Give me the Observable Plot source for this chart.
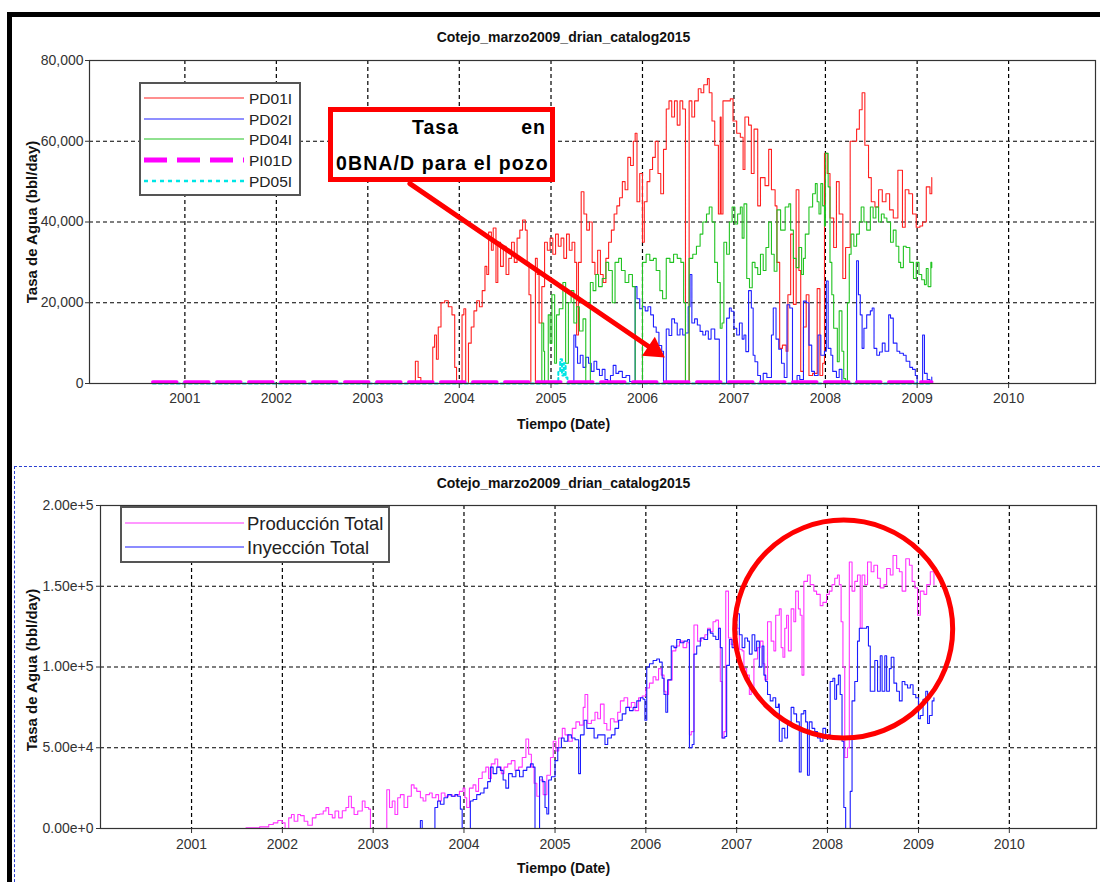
<!DOCTYPE html>
<html><head><meta charset="utf-8">
<script src="https://cdn.jsdelivr.net/npm/d3@7"></script>
<script src="https://cdn.jsdelivr.net/npm/@observablehq/plot@0.6"></script>
<style>
body{margin:0;background:#fff;}
#wrap{position:relative;width:1100px;height:882px;overflow:hidden;background:#fff;font-family:"Liberation Sans",Arial,sans-serif;}
#wrap svg{position:absolute;}
.bar{position:absolute;background:#000;}
#panel2{position:absolute;left:14px;top:466px;width:1100px;height:430px;border-top:1.5px dashed #2a3fd0;border-left:1.5px dashed #2a3fd0;}
#callout{position:absolute;left:328px;top:107px;width:227px;height:75px;box-sizing:border-box;border:5px solid #f00;background:#fff;font-weight:bold;font-size:19.5px;color:#000;}
#callout span{position:absolute;white-space:nowrap;line-height:20px;}
</style></head><body><div id="wrap">
<div class="bar" style="left:7px;top:12px;width:1093px;height:5px"></div>
<div class="bar" style="left:7px;top:12px;width:5px;height:870px"></div>
<div id="panel2"></div>
</div>
<script>
// ---------- data ----------
const chartTitle = "Cotejo_marzo2009_drian_catalog2015";
const xLabel = "Tiempo (Date)";
const yLabel = "Tasa de Agua (bbl/day)";
const xTickYears = [2001, 2002, 2003, 2004, 2005, 2006, 2007, 2008, 2009, 2010];
const topYTicks = [0, 20000, 40000, 60000, 80000];
const topYLabels = ["0", "20,000", "40,000", "60,000", "80,000"];
const botYTicks = [0, 50000, 100000, 150000, 200000];
const botYLabels = ["0.00e+0", "5.00e+4", "1.00e+5", "1.50e+5", "2.00e+5"];
const topSeriesNames = ["PD01I", "PD02I", "PD04I", "PI01D", "PD05I"];
const botSeriesNames = ["Producción Total", "Inyección Total"];
const calloutLine1 = ["Tasa", "en"];
const calloutLine2 = "0BNA/D para el pozo";

// [decimal year, bbl/day]
const pd01i = [[2000.65,0],[2003.50,0],[2003.52,5500],[2003.55,1500],[2003.58,0],[2003.69,0],[2003.71,9000],[2003.73,12000],[2003.75,6000],[2003.77,14000],[2003.80,20000],[2003.84,20500],[2003.88,19000],[2003.92,17000],[2003.95,4000],[2003.97,0],[2004.02,0],[2004.03,17000],[2004.05,18500],[2004.07,0],[2004.09,0],[2004.10,10000],[2004.13,14000],[2004.16,18000],[2004.19,20500],[2004.22,19000],[2004.25,23000],[2004.28,29000],[2004.30,27000],[2004.32,37500],[2004.35,33000],[2004.37,38500],[2004.40,25000],[2004.42,35000],[2004.45,29000],[2004.48,34000],[2004.51,27000],[2004.54,31000],[2004.57,35000],[2004.60,30000],[2004.63,36000],[2004.66,38000],[2004.69,40500],[2004.72,38000],[2004.74,30000],[2004.76,22000],[2004.78,0],[2004.82,0],[2004.83,31000],[2004.85,27000],[2004.87,15000],[2004.90,24000],[2004.93,35000],[2004.96,33000],[2004.99,36000],[2005.02,32000],[2005.05,37000],[2005.08,34000],[2005.11,36000],[2005.14,31000],[2005.17,37000],[2005.20,33000],[2005.23,35000],[2005.26,30000],[2005.28,12000],[2005.30,30000],[2005.33,47500],[2005.36,42000],[2005.39,38000],[2005.42,40000],[2005.45,30000],[2005.48,27000],[2005.51,33000],[2005.54,27000],[2005.57,25000],[2005.60,31000],[2005.63,35000],[2005.66,38000],[2005.69,42000],[2005.72,44000],[2005.75,46000],[2005.78,50000],[2005.81,48000],[2005.84,56000],[2005.87,54000],[2005.90,60000],[2005.92,62000],[2005.94,45000],[2005.97,52000],[2006.00,35000],[2006.02,45000],[2006.05,50000],[2006.08,53000],[2006.11,56000],[2006.14,60000],[2006.17,52000],[2006.20,47000],[2006.23,58000],[2006.26,68000],[2006.29,70000],[2006.32,66000],[2006.35,70000],[2006.38,64000],[2006.41,70000],[2006.44,68000],[2006.47,0],[2006.49,0],[2006.51,70000],[2006.54,66000],[2006.57,70000],[2006.61,73000],[2006.64,72000],[2006.67,74000],[2006.71,75500],[2006.73,72000],[2006.76,65000],[2006.79,59000],[2006.83,42000],[2006.85,66000],[2006.86,42000],[2006.88,70000],[2006.92,70000],[2006.96,70500],[2006.99,65000],[2007.03,62000],[2007.07,61000],[2007.10,53000],[2007.12,66000],[2007.16,64000],[2007.19,52000],[2007.22,63000],[2007.26,44000],[2007.29,51000],[2007.34,49000],[2007.38,58000],[2007.41,48000],[2007.45,44000],[2007.47,30000],[2007.50,8700],[2007.53,9500],[2007.57,8000],[2007.59,22000],[2007.62,37000],[2007.65,19600],[2007.68,48000],[2007.71,28000],[2007.73,3000],[2007.76,14000],[2007.79,22000],[2007.82,2000],[2007.86,2500],[2007.91,23500],[2007.94,2000],[2007.97,5000],[2007.99,57000],[2008.02,52000],[2008.05,41000],[2008.09,33700],[2008.12,50000],[2008.15,42000],[2008.19,26000],[2008.22,33700],[2008.27,60000],[2008.31,60000],[2008.34,63000],[2008.37,67800],[2008.40,72000],[2008.43,59000],[2008.47,51000],[2008.50,45000],[2008.54,43700],[2008.58,48000],[2008.62,45000],[2008.66,47000],[2008.70,43000],[2008.74,41000],[2008.79,52800],[2008.84,38700],[2008.87,48000],[2008.91,47000],[2008.95,42000],[2008.99,38700],[2009.03,39000],[2009.06,40000],[2009.10,48700],[2009.14,47000],[2009.16,51000]];

const pd02i = [[2000.65,0],[2005.24,0],[2005.25,12000],[2005.27,9000],[2005.29,5000],[2005.32,7000],[2005.35,4000],[2005.38,6500],[2005.41,5000],[2005.44,3000],[2005.47,5500],[2005.50,3500],[2005.53,2000],[2005.56,3500],[2005.59,1000],[2005.62,0],[2005.65,2000],[2005.68,4500],[2005.71,2500],[2005.74,3000],[2005.78,1500],[2005.82,2000],[2005.86,500],[2005.90,0],[2005.92,24000],[2005.94,21000],[2005.97,18500],[2006.00,19000],[2006.03,18000],[2006.06,19000],[2006.09,17000],[2006.12,14000],[2006.15,12700],[2006.18,9400],[2006.21,8000],[2006.23,0],[2006.24,0],[2006.26,13500],[2006.29,11900],[2006.32,16000],[2006.35,15000],[2006.38,12000],[2006.41,13500],[2006.44,12000],[2006.47,12500],[2006.50,19000],[2006.52,27000],[2006.54,15000],[2006.57,16000],[2006.60,14500],[2006.63,12900],[2006.66,12000],[2006.69,13000],[2006.72,11000],[2006.75,13500],[2006.79,11000],[2006.84,0],[2006.90,0],[2006.92,16200],[2006.95,18700],[2006.97,17900],[2007.00,13700],[2007.03,12000],[2007.06,15000],[2007.09,11000],[2007.11,12000],[2007.13,7900],[2007.16,23000],[2007.19,18700],[2007.21,7000],[2007.23,5400],[2007.26,2000],[2007.29,0],[2007.32,2500],[2007.36,1500],[2007.41,12000],[2007.43,18700],[2007.46,11000],[2007.49,8500],[2007.52,5000],[2007.55,1500],[2007.58,19500],[2007.61,18700],[2007.64,0],[2007.69,2000],[2007.72,1000],[2007.76,20400],[2007.79,20000],[2007.82,9500],[2007.85,3000],[2007.88,2000],[2007.92,12000],[2007.95,7000],[2007.99,8000],[2008.01,25400],[2008.03,8700],[2008.06,7000],[2008.08,3000],[2008.12,1500],[2008.15,3500],[2008.18,0],[2008.33,0],[2008.34,30400],[2008.36,22000],[2008.38,17000],[2008.40,8700],[2008.42,13700],[2008.45,17000],[2008.49,18000],[2008.51,18700],[2008.53,8700],[2008.56,7000],[2008.59,7800],[2008.62,10000],[2008.65,8000],[2008.69,17000],[2008.71,16200],[2008.74,10000],[2008.78,8000],[2008.81,7500],[2008.85,7000],[2008.88,5500],[2008.92,4000],[2008.95,3500],[2008.98,2000],[2009.00,0],[2009.05,0],[2009.06,12000],[2009.08,2500],[2009.11,1000],[2009.14,0],[2009.16,1600]];

const pd04i = [[2000.65,0],[2004.89,0],[2004.90,15000],[2004.92,8000],[2004.93,0],[2004.96,0],[2004.97,17000],[2004.99,10000],[2005.01,22000],[2005.04,5000],[2005.06,17000],[2005.09,18500],[2005.13,25000],[2005.16,5000],[2005.19,20000],[2005.22,23000],[2005.25,15000],[2005.28,19000],[2005.31,13000],[2005.35,16000],[2005.38,0],[2005.41,0],[2005.43,25000],[2005.46,23000],[2005.49,27000],[2005.52,24000],[2005.56,26000],[2005.60,30000],[2005.63,28000],[2005.67,20000],[2005.70,30000],[2005.74,31000],[2005.77,28000],[2005.81,25000],[2005.85,27000],[2005.89,24000],[2005.92,0],[2005.99,0],[2006.00,30000],[2006.04,32000],[2006.08,30500],[2006.12,31000],[2006.15,28000],[2006.19,23000],[2006.22,21000],[2006.26,31000],[2006.30,30000],[2006.34,32000],[2006.38,31000],[2006.42,30000],[2006.45,20000],[2006.47,0],[2006.50,0],[2006.51,31000],[2006.55,32000],[2006.59,34000],[2006.63,37000],[2006.66,40000],[2006.70,42000],[2006.73,43700],[2006.76,40000],[2006.79,30000],[2006.82,25000],[2006.85,13700],[2006.87,15000],[2006.89,35000],[2006.92,32000],[2006.95,40000],[2006.98,43700],[2007.01,39500],[2007.04,42000],[2007.07,43700],[2007.09,36000],[2007.11,44500],[2007.14,26000],[2007.17,23700],[2007.20,30000],[2007.23,28700],[2007.26,27000],[2007.29,32000],[2007.32,28000],[2007.35,33700],[2007.38,40000],[2007.41,32000],[2007.44,27800],[2007.47,43000],[2007.51,38000],[2007.56,43700],[2007.60,44500],[2007.62,38000],[2007.65,31000],[2007.68,28700],[2007.71,33700],[2007.74,27000],[2007.76,31000],[2007.78,37000],[2007.82,43700],[2007.86,47000],[2007.89,49500],[2007.91,45000],[2007.93,42000],[2007.95,49500],[2007.97,44000],[2007.99,39000],[2008.00,57000],[2008.03,48700],[2008.05,30000],[2008.07,22000],[2008.09,13700],[2008.13,5400],[2008.15,18000],[2008.18,8000],[2008.20,1200],[2008.22,0],[2008.24,20000],[2008.26,32000],[2008.28,37000],[2008.31,34000],[2008.34,37000],[2008.37,40000],[2008.39,43700],[2008.42,40000],[2008.45,38000],[2008.49,43700],[2008.52,41000],[2008.55,43700],[2008.58,40000],[2008.61,42000],[2008.64,41000],[2008.67,40000],[2008.71,35000],[2008.74,38000],[2008.77,34000],[2008.80,30000],[2008.82,28700],[2008.85,34000],[2008.88,33700],[2008.92,30000],[2008.96,26000],[2008.99,30000],[2009.02,27000],[2009.05,25700],[2009.08,24500],[2009.10,28500],[2009.12,24000],[2009.15,30000],[2009.16,28700]];

const pi01d = [[2000.65,0],[2009.16,0]];
const pd05i = [[2000.65,0],[2005.07,0],[2005.08,3000],[2005.10,6000],[2005.12,2000],[2005.14,5000],[2005.16,1500],[2005.18,0],[2009.16,0]];

const produccion = [[2001.45,0],[2001.60,500],[2001.75,1000],[2001.85,2500],[2001.90,3500],[2001.95,5000],[2002.00,3500],[2002.03,0],[2002.07,6600],[2002.10,8700],[2002.13,4500],[2002.17,8700],[2002.20,8000],[2002.24,4500],[2002.28,2000],[2002.33,6600],[2002.37,8700],[2002.41,9000],[2002.45,10800],[2002.48,12900],[2002.51,8700],[2002.55,6600],[2002.58,10800],[2002.62,6600],[2002.66,11000],[2002.70,13000],[2002.73,20000],[2002.76,12900],[2002.79,8700],[2002.83,10800],[2002.88,17000],[2002.91,13000],[2002.95,12000],[2002.97,0],[2003.13,0],[2003.15,24000],[2003.18,13000],[2003.21,17000],[2003.24,8700],[2003.27,19000],[2003.30,21000],[2003.34,13000],[2003.38,20000],[2003.42,27000],[2003.45,25000],[2003.48,23000],[2003.52,19000],[2003.55,17000],[2003.58,21000],[2003.62,22000],[2003.65,19000],[2003.69,21000],[2003.72,17000],[2003.75,22000],[2003.79,20000],[2003.83,21000],[2003.87,20000],[2003.91,21000],[2003.95,23000],[2003.99,25000],[2004.01,19000],[2004.03,13000],[2004.06,25000],[2004.10,27000],[2004.13,23000],[2004.16,31000],[2004.20,35000],[2004.24,38000],[2004.27,31000],[2004.30,40000],[2004.34,43000],[2004.37,38000],[2004.41,34000],[2004.44,38000],[2004.48,40000],[2004.52,42000],[2004.56,36000],[2004.60,38000],[2004.64,44000],[2004.68,55400],[2004.71,46000],[2004.74,38000],[2004.77,28000],[2004.80,20000],[2004.83,30000],[2004.87,21000],[2004.91,33000],[2004.95,44000],[2004.98,54000],[2005.01,48000],[2005.04,56000],[2005.08,62000],[2005.11,58000],[2005.15,54000],[2005.19,62000],[2005.23,66000],[2005.27,64000],[2005.31,75000],[2005.33,83000],[2005.36,65000],[2005.40,67000],[2005.44,72000],[2005.47,68000],[2005.50,77000],[2005.54,65000],[2005.57,61000],[2005.61,68000],[2005.65,66000],[2005.69,72000],[2005.72,79000],[2005.76,81000],[2005.80,75000],[2005.84,78000],[2005.88,73000],[2005.92,81000],[2005.96,82000],[2006.00,87000],[2006.04,90000],[2006.08,94000],[2006.11,92000],[2006.14,99000],[2006.17,95000],[2006.20,85000],[2006.22,83000],[2006.25,92000],[2006.29,110000],[2006.33,113000],[2006.37,116000],[2006.41,112000],[2006.45,115000],[2006.48,58000],[2006.50,60000],[2006.53,126000],[2006.57,116000],[2006.61,118000],[2006.65,120000],[2006.68,124000],[2006.71,122000],[2006.74,128000],[2006.77,129000],[2006.80,124000],[2006.82,91000],[2006.84,56000],[2006.86,60000],[2006.88,147000],[2006.91,118000],[2006.94,114000],[2006.97,112000],[2006.99,124000],[2007.03,111000],[2007.06,110000],[2007.08,99000],[2007.11,95000],[2007.14,83000],[2007.16,87000],[2007.19,105000],[2007.23,112000],[2007.26,116000],[2007.29,102000],[2007.31,92000],[2007.34,128000],[2007.38,116000],[2007.41,110000],[2007.43,132000],[2007.47,136000],[2007.49,112000],[2007.51,106000],[2007.53,124000],[2007.55,132000],[2007.57,110000],[2007.60,136000],[2007.63,128000],[2007.65,147000],[2007.68,136000],[2007.70,132000],[2007.72,95000],[2007.74,153000],[2007.78,157000],[2007.81,151000],[2007.85,147000],[2007.88,145000],[2007.92,138000],[2007.95,140000],[2007.99,145000],[2008.02,147000],[2008.05,151000],[2008.08,155000],[2008.11,157000],[2008.13,151000],[2008.15,128000],[2008.17,100000],[2008.19,44000],[2008.22,50000],[2008.24,165000],[2008.27,147000],[2008.30,153000],[2008.33,157000],[2008.36,124000],[2008.38,157000],[2008.41,151000],[2008.44,165000],[2008.48,159000],[2008.51,163000],[2008.55,155000],[2008.58,149000],[2008.62,151000],[2008.65,161000],[2008.69,157000],[2008.72,169000],[2008.76,161000],[2008.79,159000],[2008.82,147000],[2008.86,167000],[2008.90,163000],[2008.93,153000],[2008.96,149000],[2008.99,132000],[2009.02,147000],[2009.06,145000],[2009.09,151000],[2009.13,159000],[2009.15,159000],[2009.17,151000]];

const inyeccion = [[2003.50,0],[2003.52,5000],[2003.54,0],[2003.66,0],[2003.68,13000],[2003.71,17000],[2003.74,15000],[2003.78,19000],[2003.82,21000],[2003.86,20000],[2003.90,21000],[2003.93,20000],[2003.96,12000],[2003.98,0],[2004.05,0],[2004.07,17000],[2004.10,18000],[2004.14,21000],[2004.18,22000],[2004.22,25000],[2004.26,29000],[2004.29,38000],[2004.32,34000],[2004.36,38000],[2004.40,36000],[2004.43,30000],[2004.46,25000],[2004.49,34000],[2004.53,32000],[2004.57,36000],[2004.61,32000],[2004.65,36000],[2004.69,38000],[2004.73,40000],[2004.76,38000],[2004.78,0],[2004.81,0],[2004.83,32000],[2004.86,29000],[2004.89,13000],[2004.91,9000],[2004.93,30000],[2004.96,32000],[2005.00,42000],[2005.03,50000],[2005.07,56000],[2005.10,54000],[2005.14,58000],[2005.18,56000],[2005.22,55000],[2005.26,34000],[2005.28,58000],[2005.32,67000],[2005.35,62000],[2005.39,62000],[2005.43,56000],[2005.47,58000],[2005.51,58000],[2005.55,52000],[2005.58,56000],[2005.62,58000],[2005.66,62000],[2005.70,67000],[2005.74,71000],[2005.78,75000],[2005.82,73000],[2005.86,75000],[2005.90,79000],[2005.94,81000],[2005.97,80000],[2005.99,67000],[2006.01,100000],[2006.04,102000],[2006.08,104000],[2006.12,105000],[2006.15,103000],[2006.18,93000],[2006.20,83000],[2006.22,72000],[2006.24,92000],[2006.28,113000],[2006.31,112000],[2006.34,117000],[2006.38,115000],[2006.42,116000],[2006.46,117000],[2006.48,50000],[2006.51,52000],[2006.53,108000],[2006.56,113000],[2006.60,118000],[2006.64,117000],[2006.68,123000],[2006.71,121000],[2006.74,119000],[2006.77,117000],[2006.80,124000],[2006.82,112000],[2006.84,56000],[2006.87,57000],[2006.89,101000],[2006.92,117000],[2006.95,112000],[2006.98,120000],[2007.00,133000],[2007.03,120000],[2007.06,112000],[2007.09,118000],[2007.12,116000],[2007.14,108000],[2007.17,120000],[2007.20,110000],[2007.22,116000],[2007.25,100000],[2007.28,113000],[2007.30,95000],[2007.32,91000],[2007.34,83000],[2007.37,79000],[2007.40,81000],[2007.43,75000],[2007.46,77000],[2007.47,54000],[2007.50,62000],[2007.53,56000],[2007.56,66000],[2007.60,75000],[2007.63,71000],[2007.66,66000],[2007.69,35000],[2007.71,71000],[2007.74,73000],[2007.76,66000],[2007.78,33000],[2007.80,66000],[2007.83,62000],[2007.86,60000],[2007.89,56000],[2007.92,54000],[2007.95,62000],[2007.98,56000],[2008.01,58000],[2008.03,91000],[2008.06,93000],[2008.08,80000],[2008.10,89000],[2008.12,95000],[2008.14,83000],[2008.16,54000],[2008.18,13000],[2008.20,0],[2008.23,0],[2008.25,23000],[2008.27,79000],[2008.30,91000],[2008.33,116000],[2008.35,124000],[2008.39,124000],[2008.43,125000],[2008.45,113000],[2008.47,85000],[2008.50,85000],[2008.52,104000],[2008.55,85000],[2008.58,107000],[2008.60,85000],[2008.63,107000],[2008.65,85000],[2008.68,99000],[2008.70,106000],[2008.73,90000],[2008.76,85000],[2008.79,79000],[2008.82,91000],[2008.85,89000],[2008.88,87000],[2008.91,89000],[2008.94,83000],[2008.97,81000],[2009.00,68000],[2009.02,70000],[2009.05,80000],[2009.08,85000],[2009.10,65000],[2009.12,70000],[2009.15,79000],[2009.17,81000]];

// annotation anchors (data units)
const arrowAnnot = [{x1: 2003.46, y1: 49500, x2: 2006.24, y2: 6500}];
const circleAnnot = [{x: 2008.178, y: 123500}];

// ---------- helpers ----------
function toDate(y) {
  const yr = Math.floor(y);
  const s = Date.UTC(yr, 0, 1), e = Date.UTC(yr + 1, 0, 1);
  return new Date(s + (y - yr) * (e - s));
}
const xTickDates = xTickYears.map(y => new Date(Date.UTC(y, 0, 1)));
const fx = d => toDate(d[0]);
const fy = d => d[1];
const gridStyle = {stroke: "#000", strokeOpacity: 1, strokeWidth: 1.2, strokeDasharray: "4,3"};
const styleObj = {fontFamily: "'Liberation Sans', Arial, sans-serif", fontSize: "14px", color: "#333", background: "transparent"};
const boldText = {fontWeight: "bold", fontSize: 14, fill: "#111", textAnchor: "middle", lineAnchor: "middle"};

const wrap = document.getElementById("wrap");

// ---------- top chart ----------
const topColors = ["#ff2020", "#2020ff", "#22c322", "#ff00ff", "#00e5e5"];
const topChart = Plot.plot({
  width: 1100, height: 440,
  marginLeft: 89, marginRight: 5, marginTop: 60, marginBottom: 57,
  style: styleObj,
  x: {type: "utc", domain: [toDate(1999.96), toDate(2010.95)], label: null},
  y: {domain: [0, 80000], label: null},
  marks: [
    Plot.gridX(xTickDates, gridStyle),
    Plot.gridY(topYTicks.slice(1, -1), gridStyle),
    Plot.line(pd01i, {x: fx, y: fy, stroke: topColors[0], strokeWidth: 1.1, curve: "step-after"}),
    Plot.line(pd02i, {x: fx, y: fy, stroke: topColors[1], strokeWidth: 1.1, curve: "step-after"}),
    Plot.line(pd04i, {x: fx, y: fy, stroke: topColors[2], strokeWidth: 1.1, curve: "step-after"}),
    Plot.line(pd05i, {x: fx, y: fy, stroke: topColors[4], strokeWidth: 2, strokeDasharray: "3,3", curve: "step-after"}),
    Plot.line(pi01d, {x: fx, y: fy, stroke: topColors[3], strokeWidth: 3.5, strokeDasharray: "24,8", dy: -1.5}),
    Plot.frame({stroke: "#333", strokeWidth: 1.2}),
    Plot.axisX(xTickDates, {tickFormat: d => String(d.getUTCFullYear()), tickSize: 5, tickPadding: 5, label: null}),
    Plot.axisY(topYTicks, {tickFormat: d => topYLabels[topYTicks.indexOf(d)], tickSize: 4, tickPadding: 2, label: null}),
    Plot.arrow(arrowAnnot, {x1: d => toDate(d.x1), y1: "y1", x2: d => toDate(d.x2), y2: "y2", stroke: "#f00", strokeWidth: 5, headLength: 0, insetEnd: 12}),
    Plot.dot(arrowAnnot, {x: d => toDate(d.x2), y: "y2", symbol: "triangle", r: 8.5, fill: "#f00", stroke: "none", rotate: 124, dx: -10.5, dy: -7.2}),
    Plot.text([chartTitle], {...boldText, frameAnchor: "top", dx: -29, dy: -23}),
    Plot.text([xLabel], {...boldText, frameAnchor: "bottom", dx: -29, dy: 41}),
    Plot.text([yLabel], {...boldText, fontSize: 15, frameAnchor: "left", dx: -57, rotate: -90})
  ]
});
topChart.style.left = "0px"; topChart.style.top = "0px";
wrap.appendChild(topChart);

// ---------- bottom chart ----------
const botColors = ["#ff33ff", "#1a1aff"];
const botChart = Plot.plot({
  width: 1100, height: 442,
  marginLeft: 100, marginRight: 4, marginTop: 65, marginBottom: 54,
  style: styleObj,
  x: {type: "utc", domain: [toDate(2000.0), toDate(2010.96)], label: null},
  y: {domain: [0, 200000], label: null},
  marks: [
    Plot.gridX(xTickDates, gridStyle),
    Plot.gridY(botYTicks.slice(1, -1), gridStyle),
    Plot.line(produccion, {x: fx, y: fy, stroke: botColors[0], strokeWidth: 1.1, curve: "step-after"}),
    Plot.line(inyeccion, {x: fx, y: fy, stroke: botColors[1], strokeWidth: 1.1, curve: "step-after"}),
    Plot.frame({stroke: "#333", strokeWidth: 1.2}),
    Plot.axisX(xTickDates, {tickFormat: d => String(d.getUTCFullYear()), tickSize: 5, tickPadding: 6, label: null}),
    Plot.axisY(botYTicks, {tickFormat: d => botYLabels[botYTicks.indexOf(d)], tickSize: 4, tickPadding: 3, label: null}),
    Plot.dot(circleAnnot, {x: d => toDate(d.x), y: "y", r: 109, stroke: "#f00", strokeWidth: 5, fill: "none"}),
    Plot.text([chartTitle], {...boldText, frameAnchor: "top", dx: -35, dy: -22}),
    Plot.text([xLabel], {...boldText, frameAnchor: "bottom", dx: -35, dy: 40}),
    Plot.text([yLabel], {...boldText, fontSize: 15, frameAnchor: "left", dx: -68, dy: 3, rotate: -90})
  ]
});
botChart.style.left = "0px"; botChart.style.top = "440px";
wrap.appendChild(botChart);

// ---------- legends ----------
function legend(left, topY, w, h, rowY, names, styles, fontSize, lineX0, lineX1, textX) {
  const svg = d3.create("svg").attr("width", w).attr("height", h)
    .style("left", left + "px").style("top", topY + "px");
  svg.append("rect").attr("x", 1).attr("y", 1).attr("width", w - 2).attr("height", h - 2)
    .attr("fill", "#fff").attr("stroke", "#555").attr("stroke-width", 2);
  names.forEach((n, i) => {
    const s = styles[i];
    svg.append("line").attr("x1", lineX0).attr("x2", lineX1).attr("y1", rowY[i]).attr("y2", rowY[i])
      .attr("stroke", s.color).attr("stroke-width", s.width).attr("stroke-dasharray", s.dash || null);
    svg.append("text").attr("x", textX).attr("y", rowY[i]).attr("dy", "0.36em")
      .attr("font-family", "'Liberation Sans', Arial, sans-serif").attr("font-size", fontSize)
      .attr("fill", "#222").text(n);
  });
  wrap.appendChild(svg.node());
}
legend(139, 82, 162, 114, [16, 37, 57, 78, 99], topSeriesNames, [
  {color: topColors[0], width: 1.2},
  {color: topColors[1], width: 1.2},
  {color: topColors[2], width: 1.2},
  {color: topColors[3], width: 5, dash: "23,10"},
  {color: topColors[4], width: 2.5, dash: "4,4"}
], 15.5, 5, 105, 110);
legend(120, 506, 270, 57, [17, 41], botSeriesNames, [
  {color: botColors[0], width: 1.2},
  {color: botColors[1], width: 1.2}
], 18.5, 5, 124, 127);

// ---------- callout ----------
const callout = document.createElement("div");
callout.id = "callout";
wrap.appendChild(callout);
const s1 = document.createElement("span"); s1.textContent = calloutLine1[0];
s1.style.left = "79px"; s1.style.top = "5px"; s1.style.letterSpacing = "1px"; callout.appendChild(s1);
const s2 = document.createElement("span"); s2.textContent = calloutLine1[1];
s2.style.right = "4px"; s2.style.top = "5px"; s2.style.letterSpacing = "1px"; callout.appendChild(s2);
const s3 = document.createElement("span"); s3.textContent = calloutLine2;
s3.style.left = "3px"; s3.style.top = "41px"; s3.style.letterSpacing = "1.1px"; callout.appendChild(s3);
</script></body></html>
